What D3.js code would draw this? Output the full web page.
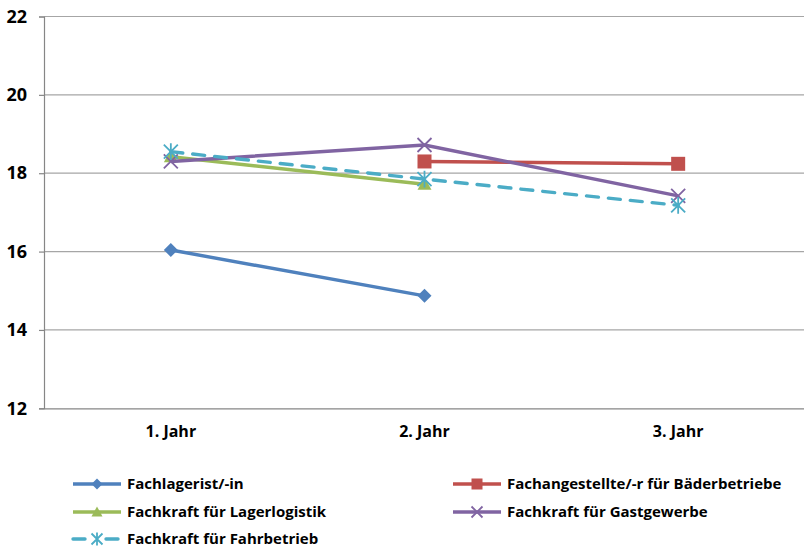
<!DOCTYPE html>
<html>
<head>
<meta charset="utf-8">
<script src="https://cdn.jsdelivr.net/npm/d3@7"></script>
<style>
  html, body { margin: 0; padding: 0; background: #fff; }
  svg text { font-family: "Open Sans", "DejaVu Sans", sans-serif; font-weight: bold; fill: #000; }
</style>
</head>
<body>
<svg id="chart" width="804" height="547"></svg>
<script>
// Categories and tick values
const years = ["1. Jahr", "2. Jahr", "3. Jahr"];
const yTicks = [12, 14, 16, 18, 20, 22];

// Series values per year (null = no value)
const fachlagerist = [16.04, 14.87, null];
const baederbetriebe = [null, 18.3, 18.24];
const lagerlogistik = [18.42, 17.72, null];
const gastgewerbe = [18.3, 18.72, 17.42];
const fahrbetrieb = [18.55, 17.85, 17.18];

const seriesNames = [
  "Fachlagerist/-in",
  "Fachangestellte/-r für Bäderbetriebe",
  "Fachkraft für Lagerlogistik",
  "Fachkraft für Gastgewerbe",
  "Fachkraft für Fahrbetrieb"
];

const series = [
  { name: seriesNames[0], values: fachlagerist, color: "#4F81BD", marker: "diamond", dash: null },
  { name: seriesNames[1], values: baederbetriebe, color: "#C0504D", marker: "square", dash: null },
  { name: seriesNames[2], values: lagerlogistik, color: "#9BBB59", marker: "triangle", dash: null },
  { name: seriesNames[3], values: gastgewerbe, color: "#8064A2", marker: "x", dash: null },
  { name: seriesNames[4], values: fahrbetrieb, color: "#4BACC6", marker: "star", dash: "12,10" }
];

const svg = d3.select("#chart");
const plotLeft = 44, plotRight = 805, plotTop = 16.5, plotBottom = 408.3;

const x = d3.scaleBand().domain(years).range([plotLeft, plotRight]);
const y = d3.scaleLinear().domain([12, 22]).range([plotBottom, plotTop]);

// Horizontal gridlines
svg.append("g").selectAll("line").data(yTicks.filter(d => d !== 12)).join("line")
  .attr("x1", plotLeft).attr("x2", plotRight)
  .attr("y1", d => y(d)).attr("y2", d => y(d))
  .attr("stroke", "#a6a6a6").attr("stroke-width", 1.2);

// Y axis
const yAxis = svg.append("g").attr("transform", `translate(${plotLeft},0)`)
  .call(d3.axisLeft(y).tickValues(yTicks).tickSize(5).tickPadding(12));
yAxis.select(".domain").attr("stroke", "#868686").attr("stroke-width", 1.2);
yAxis.selectAll(".tick line").attr("stroke", "#868686").attr("stroke-width", 1.2);
yAxis.selectAll("text").style("font-size", "18px").attr("fill", "#000");

// X axis
const xAxis = svg.append("g").attr("transform", `translate(0,${plotBottom})`)
  .call(d3.axisBottom(x).tickSize(0).tickPadding(17));
xAxis.select(".domain").attr("stroke", "#868686").attr("stroke-width", 1.2);
xAxis.selectAll("text").style("font-size", "16px").attr("fill", "#000");

const cx = i => x(years[i]) + x.bandwidth() / 2;

function drawMarker(g, type, color, size) {
  const s = size;
  if (type === "diamond") {
    g.append("path").attr("d", `M0,${-s}L${s},0L0,${s}L${-s},0Z`).attr("fill", color);
  } else if (type === "square") {
    g.append("rect").attr("x", -s).attr("y", -s).attr("width", 2 * s).attr("height", 2 * s).attr("fill", color);
  } else if (type === "triangle") {
    g.append("path").attr("d", `M0,${-s}L${s},${s * 0.8}L${-s},${s * 0.8}Z`).attr("fill", color);
  } else if (type === "x") {
    g.append("path").attr("d", `M${-s},${-s}L${s},${s}M${-s},${s}L${s},${-s}`)
      .attr("stroke", color).attr("stroke-width", 1.8).attr("fill", "none");
  } else if (type === "star") {
    g.append("path").attr("d", `M${-s},${-s}L${s},${s}M${-s},${s}L${s},${-s}M0,${-s * 1.2}L0,${s * 1.2}`)
      .attr("stroke", color).attr("stroke-width", 1.8).attr("fill", "none");
  }
}

const markerSize = { diamond: 7, square: 7, triangle: 7, x: 7, star: 7 };

const line = d3.line()
  .defined(d => d.v !== null)
  .x(d => cx(d.i))
  .y(d => y(d.v));

series.forEach(s => {
  const pts = s.values.map((v, i) => ({ v, i }));
  svg.append("path").datum(pts)
    .attr("d", line)
    .attr("fill", "none")
    .attr("stroke", s.color)
    .attr("stroke-width", 3.4)
    .attr("stroke-linecap", s.dash ? "round" : "butt")
    .attr("stroke-dasharray", s.dash);
  pts.filter(p => p.v !== null).forEach(p => {
    const g = svg.append("g").attr("transform", `translate(${cx(p.i)},${y(p.v)})`);
    drawMarker(g, s.marker, s.color, markerSize[s.marker]);
  });
});

// Legend
const legendPos = [
  { x: 73, y: 484 }, { x: 453, y: 484 },
  { x: 73, y: 512 }, { x: 453, y: 512 },
  { x: 73, y: 539 }
];
series.forEach((s, i) => {
  const p = legendPos[i];
  const g = svg.append("g").attr("transform", `translate(${p.x},${p.y})`);
  g.append("line").attr("x1", 0).attr("x2", 48).attr("y1", 0).attr("y2", 0)
    .attr("stroke", s.color).attr("stroke-width", 3.4)
    .attr("stroke-linecap", s.dash ? "round" : "butt")
    .attr("stroke-dasharray", s.dash ? "12,21" : null);
  const m = g.append("g").attr("transform", "translate(24,0)");
  drawMarker(m, s.marker, s.color, 5.5);
  g.append("text").attr("x", 54).attr("y", 0).attr("dy", "0.35em")
    .style("font-size", "15px").text(s.name);
});
</script>
</body>
</html>
